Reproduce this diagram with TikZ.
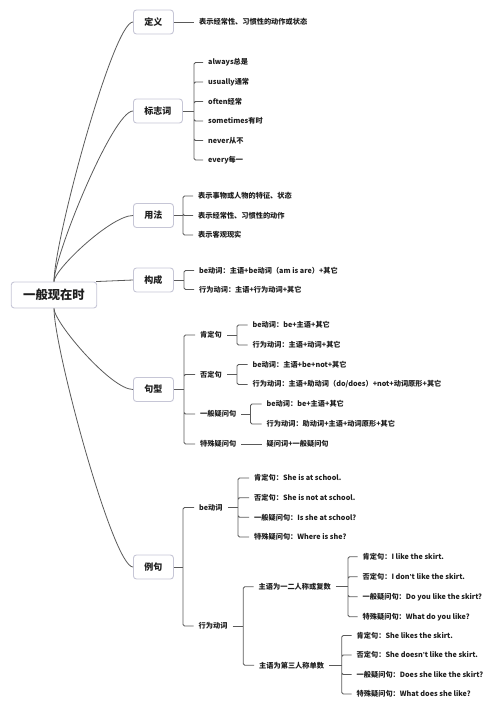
\documentclass[tikz,border=0pt]{standalone}
\usepackage{fontspec}
\setmainfont{Noto Sans CJK SC}
\newfontfamily\latinfont{Liberation Sans}
\usepackage{tikz}

\definecolor{linkgray}{HTML}{5A5A5A}
\definecolor{boxline}{HTML}{C6C6D6}
\definecolor{inkcol}{HTML}{1E1E1E}
\newcommand{\apos}{{\latinfont\bfseries ’}}

\begin{document}
\begin{tikzpicture}[x=1pt,y=-1pt,
  root/.style={draw=boxline,line width=0.9pt,rounded corners=3pt,fill=white,minimum height=26pt,inner xsep=12pt,font=\fontsize{12.3}{14}\selectfont\bfseries,text=inkcol},
  topic/.style={draw=boxline,line width=0.9pt,rounded corners=3pt,fill=white,minimum height=24pt,inner xsep=11pt,anchor=west,font=\fontsize{9}{11}\selectfont\bfseries,text=inkcol},
  leaf/.style={anchor=west,inner xsep=5pt,inner ysep=1pt,font=\fontsize{7.2}{9}\selectfont\bfseries,text=inkcol},
  branch/.style={draw=linkgray,line width=0.8pt},
  link/.style={draw=linkgray,line width=0.8pt,rounded corners=1.5pt}
]
  \useasboundingbox (0,0) rectangle (500,713);

  % main topics
  \node[root] (root) at (54,295) {一般现在时};
  \node[topic] (def) at (133,22) {定义};
  \node[topic] (sig) at (133,111) {标志词};
  \node[topic] (use) at (133,215.5) {用法};
  \node[topic] (form) at (133,280) {构成};
  \node[topic] (type) at (133,389.5) {句型};
  \node[topic] (ex) at (133,567) {例句};

  \draw[branch] (root.north) .. controls +(0,-40) and +(-20,0) .. (def.west);
  \draw[branch] (root.north) .. controls +(0,-26) and +(-20,0) .. (sig.west);
  \draw[branch] (root.north) .. controls +(0,-12) and +(-22,0) .. (use.west);
  \draw[branch] ([xshift=-1pt]root.north east) -- (form.west);
  \draw[branch] (root.south) .. controls +(0,14) and +(-22,0) .. (type.west);
  \draw[branch] (root.south) .. controls +(0,40) and +(-20,0) .. (ex.west);

  % definition
  \node[leaf] (defa) at (194,22) {表示经常性、习惯性的动作或状态};
  \draw[link] (def.east) -- (defa.west);

  % signal words
  \coordinate (sigs) at (194,111);
  \node[leaf] (sig1) at (203,62.5) {always总是};
  \node[leaf] (sig2) at (203,82) {usually通常};
  \node[leaf] (sig3) at (203,101.5) {often经常};
  \node[leaf] (sig4) at (203,121) {sometimes有时};
  \node[leaf] (sig5) at (203,140.5) {never从不};
  \node[leaf] (sig6) at (203,160) {every每一};
  \draw[link] (sig.east) -- (sigs);
  \draw[link] (sigs) |- (sig1.west) (sigs) |- (sig2.west) (sigs) |- (sig3.west)
    (sigs) |- (sig4.west) (sigs) |- (sig5.west) (sigs) |- (sig6.west);

  % usage
  \coordinate (uses) at (183,215.5);
  \node[leaf] (use1) at (193,196) {表示事物或人物的特征、状态};
  \node[leaf] (use2) at (193,215.5) {表示经常性、习惯性的动作};
  \node[leaf] (use3) at (193,235) {表示客观现实};
  \draw[link] (use.east) -- (uses);
  \draw[link] (uses) |- (use1.west) (uses) |- (use2.west) (uses) |- (use3.west);

  % structure
  \coordinate (forms) at (184,280);
  \node[leaf] (form1) at (194,270.5) {be动词：主语+be动词（am is are）+其它};
  \node[leaf] (form2) at (194,289.5) {行为动词：主语+行为动词+其它};
  \draw[link] (form.east) -- (forms);
  \draw[link] (forms) |- (form1.west) (forms) |- (form2.west);

  % sentence types
  \coordinate (types) at (184,389.5);
  \node[leaf] (aff) at (195,335) {肯定句};
  \node[leaf] (neg) at (195,374.5) {否定句};
  \node[leaf] (gq) at (195,414) {一般疑问句};
  \node[leaf] (sq) at (195,444) {特殊疑问句};
  \draw[link] (type.east) -- (types);
  \draw[link] (types) |- (aff.west) (types) |- (neg.west) (types) |- (gq.west) (types) |- (sq.west);

  \coordinate (affs) at (237,335);
  \node[leaf] (aff1) at (247.5,325) {be动词：be+主语+其它};
  \node[leaf] (aff2) at (247.5,345) {行为动词：主语+动词+其它};
  \draw[link] (aff.east) -- (affs);
  \draw[link] (affs) |- (aff1.west) (affs) |- (aff2.west);

  \coordinate (negs) at (237,374.5);
  \node[leaf] (neg1) at (247.5,364.5) {be动词：主语+be+not+其它};
  \node[leaf] (neg2) at (247.5,384.5) {行为动词：主语+助动词（do/does）+not+动词原形+其它};
  \draw[link] (neg.east) -- (negs);
  \draw[link] (negs) |- (neg1.west) (negs) |- (neg2.west);

  \coordinate (gqs) at (250.5,414);
  \node[leaf] (gq1) at (261.5,404) {be动词：be+主语+其它};
  \node[leaf] (gq2) at (261.5,424) {行为动词：助动词+主语+动词原形+其它};
  \draw[link] (gq.east) -- (gqs);
  \draw[link] (gqs) |- (gq1.west) (gqs) |- (gq2.west);

  \node[leaf] (sqa) at (261.5,444) {疑问词+一般疑问句};
  \draw[link] (sq.east) -- (sqa.west);

  % examples
  \coordinate (exs) at (183,567);
  \node[leaf] (be) at (194,507.5) {be动词};
  \node[leaf] (act) at (193.5,626) {行为动词};
  \draw[link] (ex.east) -- (exs);
  \draw[link] (exs) |- (be.west) (exs) |- (act.west);

  \coordinate (bes) at (238,507.5);
  \node[leaf] (be1) at (249,478) {肯定句：She is at school.};
  \node[leaf] (be2) at (249,497.7) {否定句：She is not at school.};
  \node[leaf] (be3) at (249,517.3) {一般疑问句：Is she at school?};
  \node[leaf] (be4) at (249,537) {特殊疑问句：Where is she?};
  \draw[link] (be.east) -- (bes);
  \draw[link] (bes) |- (be1.west) (bes) |- (be2.west) (bes) |- (be3.west) (bes) |- (be4.west);

  \coordinate (acts) at (243.3,626);
  \node[leaf] (pa) at (253.5,586.7) {主语为一二人称或复数};
  \node[leaf] (pb) at (254,665.3) {主语为第三人称单数};
  \draw[link] (act.east) -- (acts);
  \draw[link] (acts) |- (pa.west) (acts) |- (pb.west);

  \coordinate (pas) at (348,586.7);
  \node[leaf] (pa1) at (357.5,556.7) {肯定句：I like the skirt.};
  \node[leaf] (pa2) at (357.5,576.7) {否定句：I don\apos t like the skirt.};
  \node[leaf] (pa3) at (357.5,596.7) {一般疑问句：Do you like the skirt?};
  \node[leaf] (pa4) at (357.5,616.7) {特殊疑问句：What do you like?};
  \draw[link] (pa.east) -- (pas);
  \draw[link] (pas) |- (pa1.west) (pas) |- (pa2.west) (pas) |- (pa3.west) (pas) |- (pa4.west);

  \coordinate (pbs) at (341.7,665.3);
  \node[leaf] (pb1) at (351.5,635.5) {肯定句：She likes the skirt.};
  \node[leaf] (pb2) at (351.5,655) {否定句：She doesn\apos t like the skirt.};
  \node[leaf] (pb3) at (351.5,674.5) {一般疑问句：Does she like the skirt?};
  \node[leaf] (pb4) at (351.5,694) {特殊疑问句：What does she like?};
  \draw[link] (pb.east) -- (pbs);
  \draw[link] (pbs) |- (pb1.west) (pbs) |- (pb2.west) (pbs) |- (pb3.west) (pbs) |- (pb4.west);
\end{tikzpicture}
\end{document}
